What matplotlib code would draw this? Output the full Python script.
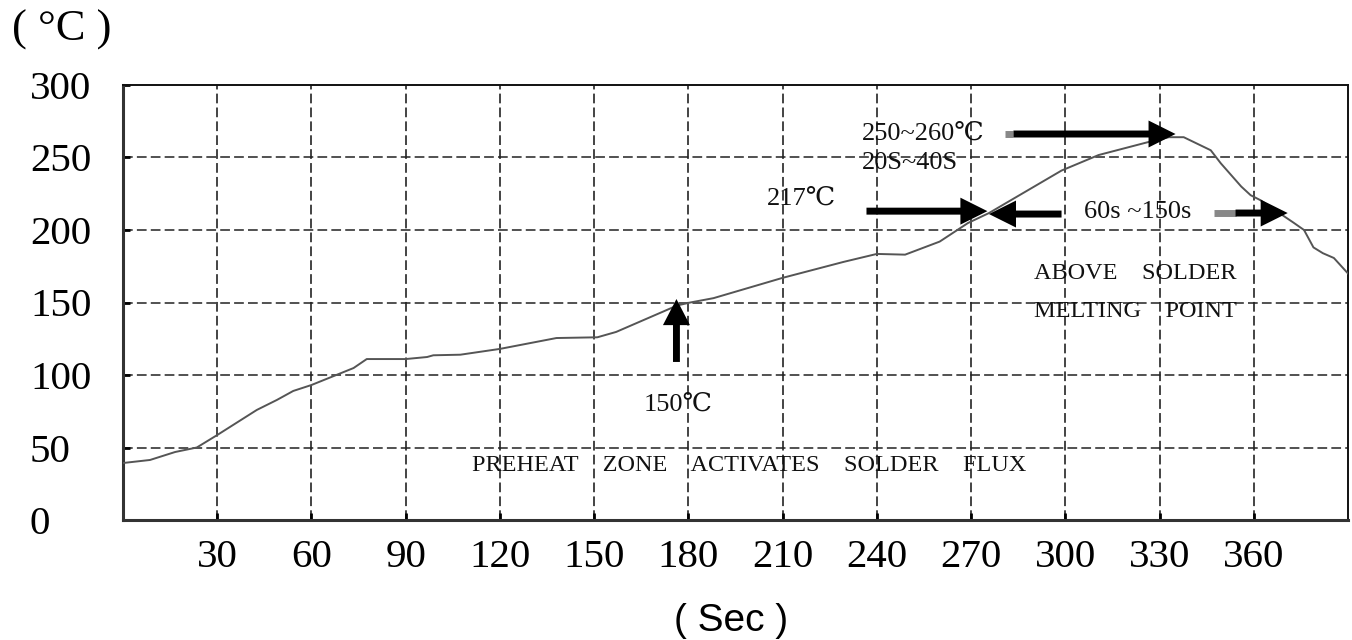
import matplotlib
matplotlib.use("Agg")
import matplotlib.pyplot as plt

plt.rcParams['lines.scale_dashes'] = False

# ---- data ----
time_s = [0, 8.6, 16.6, 23.5, 30, 42.6, 49, 54.2, 60, 73.4, 77.6, 90, 96.8, 98.8,
          107.4, 120, 138, 151, 157, 176.5, 180.6, 188, 210, 229.4, 240, 249,
          260, 269, 275.7, 298.8, 310.6, 326.5, 333, 337.7, 346.3, 349.5, 356,
          359, 362, 372.7, 376, 379, 382, 385.5, 390]
temp_c = [39.3, 41.4, 46.9, 50, 58.6, 75.9, 82.8, 89, 93.1, 104.8, 111, 111, 112.4, 113.6,
          114, 118, 125.5, 126, 129.7, 148, 150, 153, 167, 178, 183.5, 183,
          192, 204.8, 211.7, 241, 251.7, 260.7, 264, 264, 255, 246, 230,
          224, 220.7, 205, 200, 188, 184, 180.7, 170]

x_ticks = [30, 60, 90, 120, 150, 180, 210, 240, 270, 300, 330, 360]
y_ticks = [0, 50, 100, 150, 200, 250, 300]
x_grid = [30, 60, 90, 120, 150, 180, 210, 240, 270, 300, 330, 360]
y_grid = [50, 100, 150, 200, 250]

serif = ['Liberation Serif', 'DejaVu Serif', 'DejaVu Sans']

fig = plt.figure(figsize=(13.52, 6.4), dpi=100)
ax = fig.add_axes([123/1352, 1-520/640, (1348-123)/1352, (520-85)/640])
ax.set_xlim(0, 390)
ax.set_ylim(0, 300)

# grid
for gx in x_grid:
    ax.axvline(gx, color='#111111', lw=1.1, linestyle=(0, (7, 3)), zorder=1)
for gy in y_grid:
    ax.axhline(gy, color='#222222', lw=1.1, linestyle=(0, (7, 3)), zorder=1)

# curve
ax.plot(time_s, temp_c, color='#555555', lw=1.4, zorder=3)

# spines
for side in ['left', 'bottom']:
    ax.spines[side].set_linewidth(2.2)
    ax.spines[side].set_color('#333333')
for side in ['top', 'right']:
    ax.spines[side].set_linewidth(1.4)
    ax.spines[side].set_color('#111111')

ax.set_xticks(x_ticks)
ax.set_xticklabels([str(v) for v in x_ticks])
ax.set_yticks(y_ticks)
ax.set_yticklabels([str(v) for v in y_ticks])
ax.tick_params(axis='x', direction='in', length=5, width=2, pad=14, labelsize=29.5)
ax.tick_params(axis='y', direction='in', length=5, width=2, pad=67, labelsize=29.5)
for lab in ax.get_xticklabels() + ax.get_yticklabels():
    lab.set_fontfamily(serif)
for lab in ax.get_yticklabels():
    lab.set_horizontalalignment('left')

# arrows
akw = dict(color='black', lw=0, length_includes_head=True, zorder=5)
# peak arrow
ax.plot([280.7, 283.5], [266.2, 266.2], color='#888888', lw=5, solid_capstyle='butt', zorder=5)
ax.arrow(283.5, 266.2, 335.1 - 283.5, 0, width=4.8, head_width=18.6, head_length=8.6, **akw)
# 217 arrows
ax.arrow(236.7, 213, 275.2 - 236.7, 0, width=4.8, head_width=18.6, head_length=8.6, **akw)
ax.arrow(298.8, 211, 275.7 - 298.8, 0, width=4.8, head_width=18.6, head_length=8.6, **akw)
# 60s~150s arrow
ax.plot([347.2, 354.2], [211.7, 211.7], color='#888888', lw=5, solid_capstyle='butt', zorder=5)
ax.arrow(354.2, 211.7, 370.8 - 354.2, 0, width=4.8, head_width=18.6, head_length=8.6, **akw)
# 150 arrow
ax.arrow(176.2, 109, 0, 152.4 - 109, width=2.2, head_width=8.6, head_length=18, **akw)

# annotation texts
tkw = dict(family=serif, color='#111111', zorder=6)
ax.text(176.8, 79.3, '150℃', fontsize=19, ha='center', va='center', **tkw)
ax.text(111, 37.5, 'PREHEAT    ZONE    ACTIVATES    SOLDER    FLUX', fontsize=17.5,
        ha='left', va='center', **tkw)
ax.text(216, 221.4, '217℃', fontsize=19, ha='center', va='center', **tkw)
ax.text(235.1, 266.5, '250~260℃', fontsize=19, ha='left', va='center', **tkw)
ax.text(235.1, 246, '20S~40S', fontsize=19, ha='left', va='center', **tkw)
ax.text(306.1, 212.7, '60s ~150s', fontsize=19, ha='left', va='center', **tkw)
ax.text(290, 169.7, 'ABOVE    SOLDER', fontsize=17.5, ha='left', va='center', **tkw)
ax.text(290, 144, 'MELTING    POINT', fontsize=17.5, ha='left', va='center', **tkw)

# axis titles
fig.text(12/1352, 1 - 30/640, '( °C )', fontsize=32, family=serif, ha='left', va='center')
fig.text(731/1352, 1 - 621/640, '( Sec )', fontsize=28, family=['Liberation Sans', 'DejaVu Sans'],
         ha='center', va='center')

fig.savefig('out.png', dpi=100)
